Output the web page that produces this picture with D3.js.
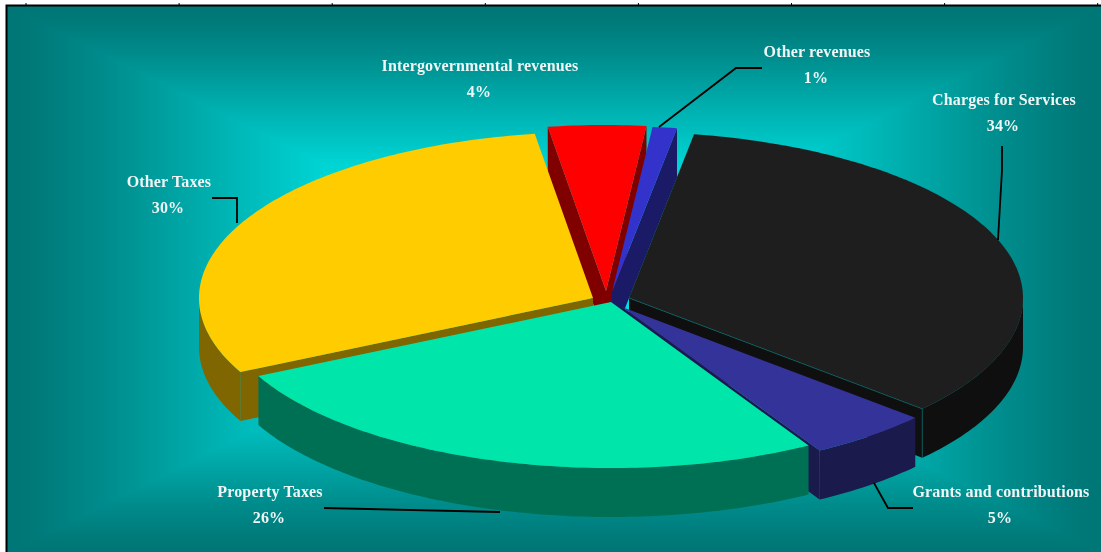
<!DOCTYPE html>
<html>
<head>
<meta charset="utf-8">
<title>Revenues by source</title>
<script src="https://cdn.jsdelivr.net/npm/d3@7/dist/d3.min.js"></script>
<style>
  html, body { margin: 0; padding: 0; background: #fff; overflow: hidden; }
  #stage { position: relative; width: 1101px; height: 552px; }
  #stage canvas, #stage svg { position: absolute; left: 0; top: 0; }
  text { font-family: "Liberation Serif", serif; font-weight: bold; font-size: 16px; letter-spacing: 0.15px; fill: #f0f6f6; text-anchor: middle; }
</style>
</head>
<body>
<div id="stage"></div>
<script>
// Revenue sources, clockwise from the start angle
const categories = ["Charges for Services", "Grants and contributions", "Property Taxes", "Other Taxes", "Intergovernmental revenues", "Other revenues"];
const shares = [34, 5, 26, 30, 4, 1];

// Top-face and wall colours per source
const faceColors = ["#1e1e1e", "#333399", "#00e5aa", "#ffcc00", "#ff0000", "#3333cc"];
const wallColors = ["#0f0f0f", "#1a1a4d", "#007055", "#806600", "#800000", "#1a1a66"];

// Tip of each exploded wedge in page pixels
const tipX = [629, 622, 611, 593, 606, 612];
const tipY = [298, 307, 302, 298, 291, 292];

// Back-to-front paint order (indexes into categories)
const paintOrder = [4, 5, 3, 0, 1, 2];

// Label centres, leader polylines
const labelX = [1004, 1001, 270, 169, 480, 817];
const labelY = [105, 497, 497, 187, 71, 57];
const leaders = [
  [[1002, 146], [1002, 170], [998, 240]],
  [[874, 483], [888, 508], [913, 508]],
  [[324, 508], [500, 512]],
  [[212, 198], [237, 198], [237, 223]],
  [],
  [[762, 68], [736, 68], [659, 127]]
];

const W = 1101, H = 552;
const plate = { left: 7, top: 6 };
const rx = 394, ry = 166, depth = 49;
const lineGap = 26;
const startDeg = 9.5;

const stage = d3.select("#stage");

// Backdrop: rectangular gradient running out from the plate centre
const canvas = stage.append("canvas").attr("width", W).attr("height", H).node();
const ctx = canvas.getContext("2d");
const shade = d3.scaleLinear()
  .domain([0, 0.42, 0.6, 0.82, 0.95, 1])
  .range(["#00e6e6", "#00d4d4", "#00b4b4", "#008c8c", "#007979", "#007676"]);
const cx = (plate.left + W) / 2, cy = (plate.top + H) / 2;
const halfW = (W - plate.left) / 2, halfH = (H - plate.top) / 2;
const img = ctx.createImageData(W, H);
for (let y = 0; y < H; y++) {
  for (let x = 0; x < W; x++) {
    const i = (y * W + x) * 4;
    let c = { r: 255, g: 255, b: 255 };
    if (x >= plate.left && y >= plate.top) {
      c = d3.rgb(shade(Math.max(Math.abs(x - cx) / halfW, Math.abs(y - cy) / halfH)));
    }
    img.data[i] = c.r; img.data[i + 1] = c.g; img.data[i + 2] = c.b; img.data[i + 3] = 255;
  }
}
ctx.putImageData(img, 0, 0);

const svg = stage.append("svg").attr("width", W).attr("height", H);

// Plate frame with its small notches on the top edge
svg.append("path")
  .attr("d", `M${plate.left - 0.5},${H}V${plate.top - 0.5}H${W}`)
  .attr("fill", "none").attr("stroke", "#000").attr("stroke-width", 2);
svg.selectAll("line.notch").data(d3.range(26, W, 153.1)).join("line")
  .attr("class", "notch")
  .attr("x1", d => d).attr("x2", d => d)
  .attr("y1", plate.top - 3).attr("y2", plate.top)
  .attr("stroke", "#000");

const pie = d3.pie().sort(null)
  .startAngle(startDeg * Math.PI / 180)
  .endAngle((startDeg + 360) * Math.PI / 180);
const arcs = pie(shares);
const outline = d3.line();

const rimPoint = (i, a, drop = 0) => [
  tipX[i] + rx * Math.sin(a),
  tipY[i] - ry * Math.cos(a) + drop
];
const sampleRim = (i, a0, a1, drop = 0) => {
  const n = Math.max(2, Math.ceil((a1 - a0) * 60));
  return d3.range(n + 1).map(k => rimPoint(i, a0 + (a1 - a0) * k / n, drop));
};

// One radial wall hanging under a wedge edge
const radialWall = (i, a) => {
  const tip = [tipX[i], tipY[i]];
  return [tip, rimPoint(i, a), rimPoint(i, a, depth), [tip[0], tip[1] + depth]];
};

const layer = svg.append("g");
paintOrder.forEach(i => {
  const { startAngle: a0, endAngle: a1 } = arcs[i];
  const g = layer.append("g").attr("class", "wedge");
  const side = wallColors[i];

  if (Math.sin(a0) < 0) {
    g.append("path").attr("d", outline(radialWall(i, a0)) + "Z").attr("fill", side);
  }
  if (Math.sin(a1) > 0) {
    g.append("path").attr("d", outline(radialWall(i, a1)) + "Z").attr("fill", side);
  }

  // Outer rim, only the part turned toward the viewer
  const from = Math.max(a0, Math.PI / 2), to = Math.min(a1, 3 * Math.PI / 2);
  if (to > from) {
    const rim = sampleRim(i, from, to).concat(sampleRim(i, from, to, depth).reverse());
    g.append("path").attr("d", outline(rim) + "Z").attr("fill", side);
  }

  // Top face
  const face = [[tipX[i], tipY[i]]].concat(sampleRim(i, a0, a1));
  g.append("path").attr("d", outline(face) + "Z").attr("fill", faceColors[i]);

  // Faint seam along the darkest wedge's near edge
  if (i === 0) {
    g.append("path")
      .attr("d", outline([[tipX[i], tipY[i]], rimPoint(i, a1), rimPoint(i, a1, depth)]))
      .attr("fill", "none").attr("stroke", "#0d6a6a").attr("stroke-width", 0.7);
  }
});

// Leader lines
svg.selectAll("path.leader").data(leaders.filter(l => l.length)).join("path")
  .attr("class", "leader")
  .attr("d", d => outline(d))
  .attr("fill", "none").attr("stroke", "#000").attr("stroke-width", 1.8);

// Two-line labels: name, then share
const labels = svg.selectAll("g.label").data(categories).join("g").attr("class", "label");
labels.append("text").attr("x", (d, i) => labelX[i]).attr("y", (d, i) => labelY[i]).text(d => d);
labels.append("text").attr("x", (d, i) => labelX[i] - 1).attr("y", (d, i) => labelY[i] + lineGap)
  .text((d, i) => shares[i] + "%");
</script>
</body>
</html>
